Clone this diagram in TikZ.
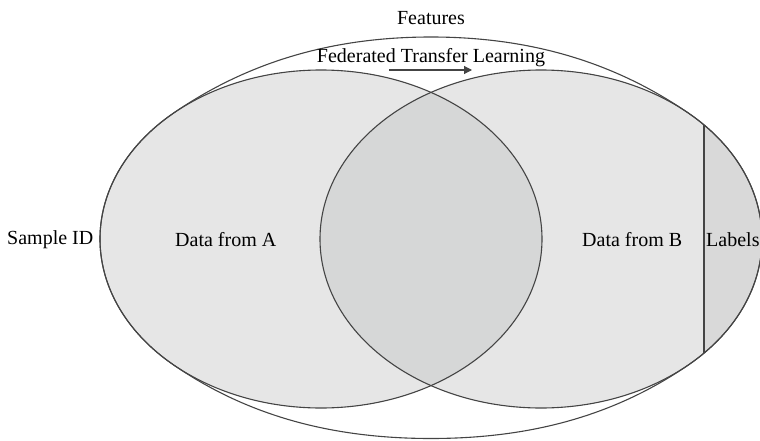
\documentclass[tikz,border=0pt]{standalone}
\usepackage{fontspec}
\setmainfont{Liberation Serif}
\usetikzlibrary{arrows.meta}
\definecolor{setfill}{HTML}{E6E6E6}
\definecolor{lensfill}{HTML}{D6D7D7}
\definecolor{labelfill}{HTML}{D9D9D9}
\definecolor{edge}{HTML}{444444}
\tikzset{
  outline/.style={draw=edge, line width=1.1pt},
  caption/.style={font=\fontsize{20}{24}\selectfont, text=black, inner sep=0pt},
  setshape/.style={x radius=221pt, y radius=169pt},
}
\begin{document}
\begin{tikzpicture}[x=1pt,y=1pt]
\useasboundingbox (0,0) rectangle (760,440);
\coordinate (cA) at (321,201);
\coordinate (cB) at (541,201);

% the two data sets
\fill[setfill] (cA) ellipse [setshape];
\fill[setfill] (cB) ellipse [setshape];

% overlap of A and B
\begin{scope}
  \clip (cA) ellipse [setshape];
  \fill[lensfill] (cB) ellipse [setshape];
\end{scope}

% label column of B
\begin{scope}
  \clip (cB) ellipse [setshape];
  \fill[labelfill] (704,0) rectangle (780,440);
  \draw[outline] (704,0) -- (704,440);
\end{scope}

% overall feature/sample space: hugs A on the left and B on the right
\coordinate (oTL) at (173.1,326.6);
\coordinate (oBL) at (173.1,75.4);
\coordinate (oBR) at (688.9,75.4);
\coordinate (oTR) at (688.9,326.6);
\coordinate (oBot) at (431,1.5);
\coordinate (oTop) at (431,403);
\draw[outline]
  (oTL) arc[start angle=132, end angle=228, x radius=221pt, y radius=169pt]
  .. controls (247,24.5) and (331,1.5) .. (oBot)
  .. controls (531,1.5) and (615,24.5) .. (oBR)
  arc[start angle=-48, end angle=48, x radius=221pt, y radius=169pt]
  .. controls (615,377.5) and (531,403) .. (oTop)
  .. controls (331,403) and (247,377.5) .. (oTL) -- cycle;

\draw[outline] (cA) ellipse [setshape];
\draw[outline] (cB) ellipse [setshape];

% texts
\node[caption] (features) at (431,422) {Features};
\node[caption] (ftl) at (431,382) {Federated Transfer Learning};
\node[caption, anchor=west] (sid) at (7,200) {Sample ID};
\node[caption, anchor=west] (dataA) at (175,200) {Data from A};
\node[caption, anchor=west] (dataB) at (582,200) {Data from B};
\node[caption, anchor=west] (labels) at (706,200) {Labels};

% transfer arrow
\coordinate (arrS) at (389,370);
\coordinate (arrE) at (472,370);
\draw[draw=edge, line width=1.1pt, -{Triangle[length=8pt,width=8pt]}] (arrS) -- (arrE);
\end{tikzpicture}
\end{document}
